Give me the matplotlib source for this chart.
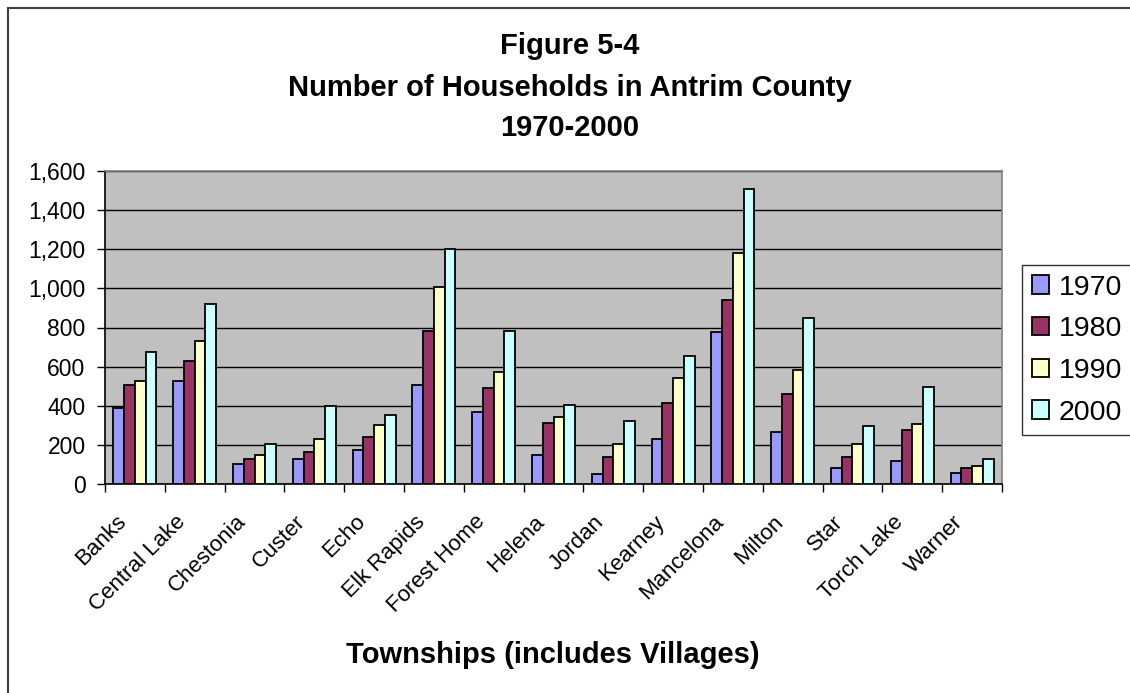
import matplotlib
matplotlib.use("Agg")
import matplotlib.pyplot as plt
import numpy as np
from matplotlib.patches import Rectangle
from matplotlib.transforms import ScaledTranslation
from matplotlib.ticker import FuncFormatter, MultipleLocator, FixedLocator

plt.rcParams['font.family'] = ['Liberation Sans', 'DejaVu Sans']

townships = ["Banks", "Central Lake", "Chestonia", "Custer", "Echo", "Elk Rapids",
             "Forest Home", "Helena", "Jordan", "Kearney", "Mancelona", "Milton",
             "Star", "Torch Lake", "Warner"]
years = ["1970", "1980", "1990", "2000"]
h1970 = [387, 526, 100, 128, 174, 506, 368, 147, 53, 230, 775, 267, 82, 119, 55]
h1980 = [506, 627, 128, 165, 240, 784, 489, 313, 138, 414, 942, 462, 138, 278, 82]
h1990 = [526, 729, 147, 232, 303, 1007, 572, 342, 203, 543, 1182, 583, 203, 305, 94]
h2000 = [673, 922, 203, 397, 351, 1201, 784, 405, 324, 656, 1506, 850, 295, 497, 128]
series = [h1970, h1980, h1990, h2000]
colors = ["#9999FF", "#993366", "#FFFFCC", "#CCFFFF"]

W, H = 1130, 693
fig = plt.figure(figsize=(W / 100, H / 100), dpi=100)

# outer chart border
fig.patches.append(Rectangle((8 / W, -0.1), 1.2, 1 - 8 / H + 0.1, transform=fig.transFigure,
                             fill=False, edgecolor="#404040", linewidth=1.5))

left, right, top, bottom = 105, 1002, 171, 484
ax = fig.add_axes([left / W, 1 - bottom / H, (right - left) / W, (bottom - top) / H])
ax.set_facecolor("#C0C0C0")

n = len(townships)
x = np.arange(n)
bw = 0.18
for i, (vals, c, y) in enumerate(zip(series, colors, years)):
    ax.bar(x + (i - 1.5) * bw, vals, width=bw, color=c, edgecolor="black",
           linewidth=1.3, label=y, zorder=3)

ax.set_xlim(-0.5, n - 0.5)
ax.set_ylim(0, 1600)
ax.yaxis.set_major_locator(MultipleLocator(200))
ax.yaxis.set_major_formatter(FuncFormatter(lambda v, p: f"{int(v):,}"))
ax.grid(axis="y", color="black", linewidth=1.0, zorder=1)

ax.set_xticks(x)
ax.set_xticklabels(townships, rotation=45, ha="right", va="center",
                   rotation_mode="anchor", fontsize=16)
ax.tick_params(axis="x", which="major", length=0, pad=25)
offset = ScaledTranslation(-12 / 100, 0, fig.dpi_scale_trans)
for lbl in ax.get_xticklabels():
    lbl.set_transform(lbl.get_transform() + offset)
ax.xaxis.set_minor_locator(FixedLocator(np.arange(-0.5, n, 1.0)))
ax.tick_params(axis="x", which="minor", length=6, width=1, direction="out", color="black")
ax.tick_params(axis="y", length=6, width=1, direction="out", labelsize=16.5, pad=8)

for s in ["top", "right"]:
    ax.spines[s].set_color("#808080")
    ax.spines[s].set_linewidth(1.2)
for s in ["left", "bottom"]:
    ax.spines[s].set_color("black")
    ax.spines[s].set_linewidth(1.2)

# titles
for txt, yy in [("Figure 5-4", 46), ("Number of Households in Antrim County", 88), ("1970-2000", 128)]:
    fig.text(570 / W, 1 - yy / H, txt, ha="center", va="center", fontsize=21, fontweight="bold")

fig.text(553 / W, 1 - 655 / H, "Townships (includes Villages)", ha="center", va="center",
         fontsize=21, fontweight="bold")

leg = ax.legend(loc="center left", bbox_to_anchor=((1022 - left) / (right - left), 0.428),
                fontsize=20.5, frameon=True, fancybox=False, edgecolor="black",
                handlelength=0.6, handleheight=0.6, handletextpad=0.35,
                labelspacing=0.55, borderpad=0.35, borderaxespad=0)
leg.get_frame().set_linewidth(1.0)

fig.savefig("out.png", dpi=100)
